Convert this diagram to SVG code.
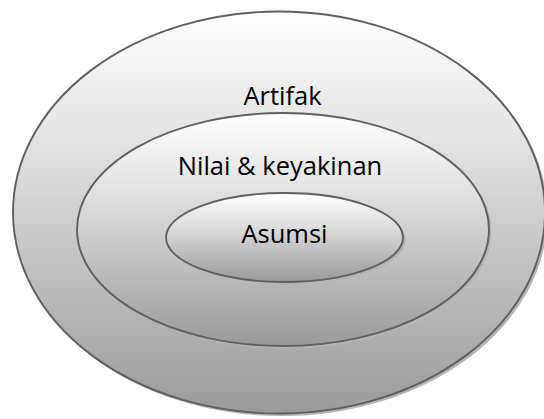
<svg xmlns="http://www.w3.org/2000/svg" width="544" height="419" viewBox="0 0 544 419">
  <defs>
    <linearGradient id="g" x1="0" y1="0" x2="0" y2="1">
      <stop offset="0" stop-color="#ffffff"/>
      <stop offset="0.35" stop-color="#e0e0e0"/>
      <stop offset="1" stop-color="#9a9a9a"/>
    </linearGradient>
  </defs>
  <style>
    .shadow { fill: #b4b4b4; stroke: none; }
    .shape { fill: url(#g); stroke: #606060; stroke-width: 1.9; }
    .label { font-family: "Open Sans", "Liberation Sans", sans-serif; font-size: 25.5px; fill: #000000; text-anchor: middle; }
  </style>
  <g id="artifak">
    <ellipse class="shadow" cx="281.5" cy="215" rx="266" ry="201"/>
    <ellipse class="shape" cx="279" cy="212.5" rx="266" ry="201"/>
    <text class="label" x="282.5" y="105">Artifak</text>
  </g>
  <g id="nilai">
    <ellipse class="shadow" cx="285.5" cy="232" rx="206" ry="116.5"/>
    <ellipse class="shape" cx="283" cy="229.5" rx="206" ry="116.5"/>
    <text class="label" x="280" y="175">Nilai &amp; keyakinan</text>
  </g>
  <g id="asumsi">
    <ellipse class="shadow" cx="287" cy="240" rx="118.5" ry="44.5"/>
    <ellipse class="shape" cx="284.5" cy="237.5" rx="118.5" ry="44.5"/>
    <text class="label" x="284.5" y="243">Asumsi</text>
  </g>
  <g id="connectors"/>
</svg>
